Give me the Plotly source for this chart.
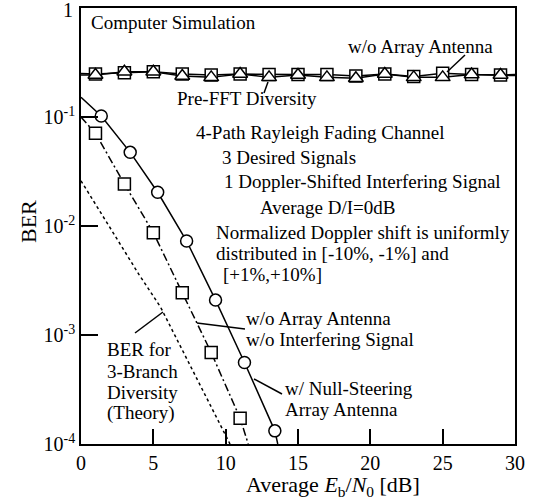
import plotly.graph_objects as go

# ---- data ----
# w/ Null-Steering Array Antenna (circles, solid)
ns_x = [1.4, 3.4, 5.3, 7.3, 9.3, 11.3, 13.4]
ns_y = [0.102, 0.0474, 0.0204, 0.00728, 0.00209, 0.00056, 0.000132]
ns_line_x = [0.0] + ns_x + [13.6]
ns_line_y = [0.152] + ns_y + [0.0001]

# w/o Array Antenna, w/o Interfering Signal (squares, dash-dot)
ni_x = [1, 3, 5, 7, 9, 11]
ni_y = [0.0708, 0.0243, 0.00869, 0.00244, 0.00069, 0.000172]
ni_line_x = [0.0] + ni_x + [11.56]
ni_line_y = [0.100] + ni_y + [0.0001]

# BER for 3-Branch Diversity (Theory), dotted
th_x = [0.0, 2.0, 4.0, 5.5, 8.0, 10.3]
th_y = [0.026, 0.0097, 0.0036, 0.0018, 0.0004, 0.0001]

# w/o Array Antenna (squares) and Pre-FFT Diversity (triangles), interfering present
top_x = [1, 3, 5, 7, 9, 11, 13, 15, 17, 19, 21, 23, 25, 27, 29]
woa_y = [0.248, 0.255, 0.260, 0.248, 0.243, 0.248, 0.245, 0.245, 0.245, 0.238,
         0.248, 0.235, 0.252, 0.245, 0.243]
pre_y = [0.243, 0.260, 0.260, 0.238, 0.231, 0.248, 0.231, 0.243, 0.231, 0.227,
         0.248, 0.231, 0.231, 0.245, 0.243]
top_line_x = [0.0] + top_x + [30.0]
woa_line_y = [0.250] + woa_y + [0.245]
pre_line_y = [0.243] + pre_y + [0.240]

x_ticks = [0, 5, 10, 15, 20, 25, 30]
y_tickvals = [1e-4, 1e-3, 1e-2, 1e-1, 1]
y_ticktext = ["10<sup>-4</sup>", "10<sup>-3</sup>", "10<sup>-2</sup>", "10<sup>-1</sup>", "1"]

FONT = "Liberation Serif, Times New Roman, serif"
BLACK = "#000"

fig = go.Figure()

def line(x, y, dash="solid"):
    fig.add_trace(go.Scatter(x=x, y=y, mode="lines",
                             line=dict(color=BLACK, width=1.5, dash=dash),
                             showlegend=False, hoverinfo="skip"))

def markers(x, y, symbol, size):
    fig.add_trace(go.Scatter(x=x, y=y, mode="markers",
                             marker=dict(symbol=symbol, size=size, color="white",
                                         line=dict(color=BLACK, width=1.5)),
                             showlegend=False, cliponaxis=False))

line(th_x, th_y, "3px,3px")
line(ni_line_x, ni_line_y, "8px,3px,2px,3px")
line(ns_line_x, ns_line_y)
line(top_line_x, woa_line_y)
line(top_line_x, pre_line_y)
markers(ni_x, ni_y, "square", 12)
markers(ns_x, ns_y, "circle", 12)
markers(top_x, woa_y, "square", 12)
markers(top_x, pre_y, "triangle-up", 13)

fs = 19
anns = [
    ("Computer Simulation", 89, 22),
    ("w/o Array Antenna", 346, 47),
    ("Pre-FFT Diversity", 175, 98),
    ("4-Path Rayleigh Fading Channel", 194, 132),
    ("3 Desired Signals", 220, 157),
    ("1 Doppler-Shifted Interfering Signal", 222, 182),
    ("Average D/I=0dB", 258, 207),
    ("Normalized Doppler shift is uniformly", 214, 232),
    ("distributed in [-10%, -1%] and", 214, 253),
    ("[+1%,+10%]", 221, 274),
    ("w/o Array Antenna", 244, 318),
    ("w/o Interfering Signal", 244, 339),
    ("w/ Null-Steering", 283, 388),
    ("Array Antenna", 283, 409),
    ("BER for", 105, 349),
    ("3-Branch", 105, 371),
    ("Diversity", 105, 392),
    ("(Theory)", 105, 413),
]
W, H = 537, 502
ML, MR, MT, MB = 81, W - 515, 8, H - 444
pw, ph = W - ML - MR, H - MT - MB

def px2paper(px, py):
    return (px - ML) / pw, 1 - (py - MT) / ph

annotations = []
for t, px, py in anns:
    ax, ay = px2paper(px, py)
    annotations.append(dict(text=t, x=ax, y=ay, xref="paper", yref="paper",
                            xanchor="left", yanchor="middle", showarrow=False,
                            font=dict(family=FONT, size=fs, color=BLACK)))
ax, ay = px2paper(333, 486)
annotations.append(dict(text="Average <i>E</i><sub>b</sub>/<i>N</i><sub>0</sub> [dB]",
                        x=ax, y=ay, xref="paper", yref="paper",
                        xanchor="center", yanchor="middle", showarrow=False,
                        font=dict(family=FONT, size=22, color=BLACK)))
ax, ay = px2paper(28, 222)
annotations.append(dict(text="BER", x=ax, y=ay, xref="paper", yref="paper",
                        xanchor="center", yanchor="middle", showarrow=False, textangle=-90,
                        font=dict(family=FONT, size=22, color=BLACK)))
# top "1" tick label (the range edge)
ax, ay = px2paper(68, 10)
annotations.append(dict(text="1", x=ax, y=ay, xref="paper", yref="paper",
                        xanchor="center", yanchor="middle", showarrow=False,
                        font=dict(family=FONT, size=20, color=BLACK)))

shapes = []
leaders = [((465, 55), (447, 72)), ((268, 82), (264, 93)), ((197, 323), (245, 329)),
           ((254, 379), (282, 394)), ((135, 333), (163, 312))]
for (x0, y0), (x1, y1) in leaders:
    a0 = px2paper(x0, y0)
    a1 = px2paper(x1, y1)
    shapes.append(dict(type="line", xref="paper", yref="paper",
                       x0=a0[0], y0=a0[1], x1=a1[0], y1=a1[1],
                       line=dict(color=BLACK, width=1.5)))

fig.update_layout(
    width=W, height=H,
    margin=dict(l=ML, r=MR, t=MT, b=MB, autoexpand=False),
    paper_bgcolor="white", plot_bgcolor="white",
    font=dict(family=FONT, size=20, color=BLACK),
    annotations=annotations, shapes=shapes,
    xaxis=dict(range=[0, 30], tickvals=x_ticks, ticks="inside", ticklen=15,
               tickwidth=1.5, tickcolor=BLACK, showgrid=False, zeroline=False,
               showline=True, linecolor=BLACK, linewidth=1.5, mirror=True,
               automargin=False, tickfont=dict(family=FONT, size=20)),
    yaxis=dict(type="log", range=[-4, 0], tickvals=y_tickvals[:-1], ticktext=y_ticktext[:-1],
               ticks="inside", ticklen=17, tickwidth=1.5, tickcolor=BLACK,
               showgrid=False, zeroline=False, showline=True, linecolor=BLACK,
               linewidth=1.5, mirror=True, automargin=False,
               tickfont=dict(family=FONT, size=20)),
)

fig.write_html("out.html", config={"displayModeBar": False},
               post_script="document.body.style.margin='0px';document.body.style.padding='0px';")
